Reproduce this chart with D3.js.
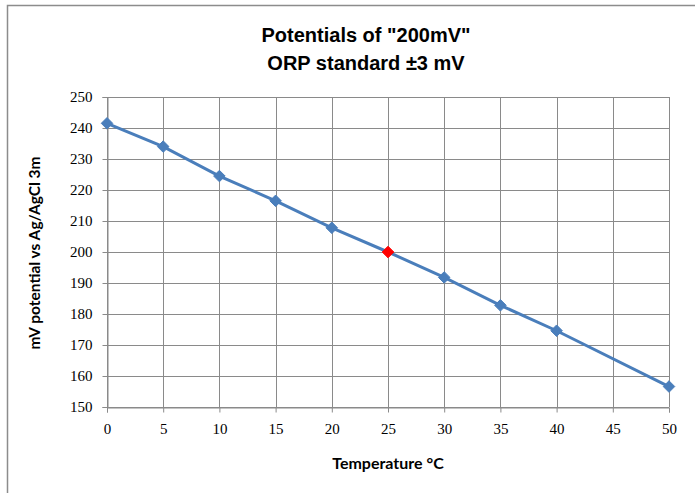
<!DOCTYPE html>
<html>
<head>
<meta charset="utf-8">
<script src="https://cdn.jsdelivr.net/npm/d3@7"></script>
<style>
  body { margin: 0; background: #fff; }
  svg { display: block; }
  .tick text { font-family: "Liberation Serif", serif; font-size: 15px; fill: #000; }
</style>
</head>
<body>
<div id="chart"></div>
<script>
// data
const temps = [0, 5, 10, 15, 20, 25, 30, 35, 40, 50];
const potentials = [241.5, 234, 224.5, 216.5, 207.8, 200, 191.8, 182.8, 174.6, 156.6];
const highlightTemp = 25;
const xTicks = [0, 5, 10, 15, 20, 25, 30, 35, 40, 45, 50];
const yTicks = [150, 160, 170, 180, 190, 200, 210, 220, 230, 240, 250];

const width = 695, height = 493;
const margin = {top: 97, right: 26, bottom: 86, left: 107};

const svg = d3.select('#chart').append('svg')
    .attr('width', width)
    .attr('height', height);

// chart frame
svg.append('rect')
    .attr('x', 7.5).attr('y', 5.5)
    .attr('width', 700).attr('height', 500)
    .attr('fill', 'none')
    .attr('stroke', '#8c8c8c')
    .attr('stroke-width', 1.5);

const x = d3.scaleLinear().domain([0, 50]).range([margin.left, width - margin.right]);
const y = d3.scaleLinear().domain([150, 250]).range([height - margin.bottom, margin.top]);

// grid
svg.append('g').selectAll('line').data(yTicks).enter().append('line')
    .attr('x1', x(0)).attr('x2', x(50))
    .attr('y1', d => Math.round(y(d)) + 0.5).attr('y2', d => Math.round(y(d)) + 0.5)
    .attr('stroke', '#8a8a8a');
svg.append('g').selectAll('line').data(xTicks).enter().append('line')
    .attr('y1', y(150)).attr('y2', y(250))
    .attr('x1', d => Math.round(x(d)) + 0.5).attr('x2', d => Math.round(x(d)) + 0.5)
    .attr('stroke', '#8a8a8a');

// axes
const xAxis = svg.append('g')
    .attr('transform', `translate(0,${Math.round(y(150)) + 0.5})`)
    .call(d3.axisBottom(x).tickValues(xTicks).tickSize(5).tickPadding(11));
const yAxis = svg.append('g')
    .attr('transform', `translate(${Math.round(x(0)) + 0.5},0)`)
    .call(d3.axisLeft(y).tickValues(yTicks).tickSize(5).tickPadding(10));
[xAxis, yAxis].forEach(a => {
    a.select('.domain').attr('stroke', '#8a8a8a');
    a.selectAll('.tick line').attr('stroke', '#8a8a8a');
});

// line
const pts = temps.map((t, i) => ({t: t, v: potentials[i]}));
svg.append('path')
    .datum(pts)
    .attr('fill', 'none')
    .attr('stroke', '#4a7ebb')
    .attr('stroke-width', 3)
    .attr('d', d3.line().x(d => x(d.t)).y(d => y(d.v)));

// diamond markers
const diamond = d3.symbol().type(d3.symbolDiamond2).size(85);
svg.append('g').selectAll('path').data(pts).enter().append('path')
    .attr('d', diamond)
    .attr('transform', d => `translate(${x(d.t)},${y(d.v)})`)
    .attr('fill', d => d.t === highlightTemp ? '#ff0000' : '#4a7ebb')
    .attr('stroke', d => d.t === highlightTemp ? '#ff0000' : '#4a7ebb');

// titles
const title = svg.append('text')
    .attr('text-anchor', 'middle')
    .attr('font-family', '"Liberation Sans Narrow", "Liberation Sans", sans-serif')
    .attr('font-weight', 'bold')
    .attr('font-size', 20)
    .attr('fill', '#000');
title.append('tspan').attr('x', 366).attr('y', 42).text('Potentials of "200mV"');
title.append('tspan').attr('x', 366).attr('y', 70).text('ORP standard \u00b13 mV');

svg.append('text')
    .attr('x', 388).attr('y', 469)
    .attr('text-anchor', 'middle')
    .attr('font-family', 'Lato, sans-serif')
    .attr('font-weight', 'bold')
    .attr('font-size', 16)
    .text('Temperature \u00b0C');

svg.append('text')
    .attr('transform', 'translate(40,253) rotate(-90)')
    .attr('text-anchor', 'middle')
    .attr('font-family', 'Lato, sans-serif')
    .attr('font-weight', 'bold')
    .attr('font-size', 15.5)
    .text('mV potential vs Ag/AgCl 3m');
</script>
</body>
</html>
